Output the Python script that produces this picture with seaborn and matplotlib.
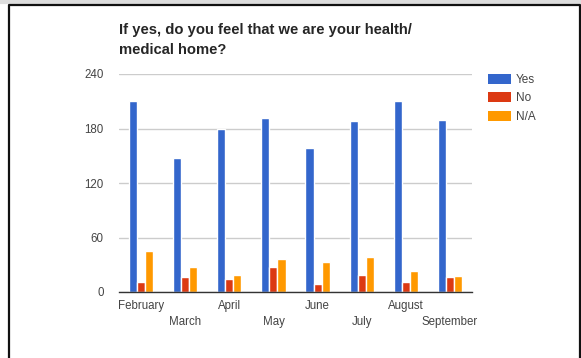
import matplotlib
matplotlib.use("Agg")
import matplotlib.pyplot as plt
import matplotlib.transforms as mtransforms
from matplotlib.lines import Line2D
from matplotlib.patches import Patch
import pandas as pd
import seaborn as sns

# Data
months = ["February", "March", "April", "May", "June", "July", "August", "September"]
yes_vals = [210, 147, 180, 192, 158, 188, 210, 189]
no_vals = [11, 16, 14, 28, 9, 19, 11, 17]
na_vals = [45, 27, 19, 36, 33, 38, 23, 18]
answers = ["Yes", "No", "N/A"]
colors = ["#3366CC", "#DC3912", "#FF9900"]
y_ticks = [0, 60, 120, 180, 240]

df = pd.DataFrame({"Month": months, "Yes": yes_vals, "No": no_vals, "N/A": na_vals})
long_df = df.melt(id_vars="Month", var_name="Answer", value_name="Count")

sns.set_style("white")
plt.rcParams["font.family"] = ["Liberation Sans", "DejaVu Sans"]

W, H = 581, 358
fig = plt.figure(figsize=(W / 100, H / 100), dpi=100)
ax = fig.add_axes([119 / W, 1 - 292 / H, (472 - 119) / W, (292 - 74) / H])

sns.barplot(data=long_df, x="Month", y="Count", hue="Answer", hue_order=answers,
            palette=colors, order=months, width=0.55, gap=0, saturation=1,
            errorbar=None, legend=False, ax=ax)

ax.set_ylim(0, 240)
ax.set_yticks(y_ticks)
ax.set_xlim(-0.5, len(months) - 0.5)
ax.grid(axis="y", color="#cccccc", linewidth=1)
ax.set_axisbelow(True)
for s in ["top", "right", "left"]:
    ax.spines[s].set_visible(False)
ax.spines["bottom"].set_color("#333333")
ax.spines["bottom"].set_linewidth(1)
ax.set_xlabel("")
ax.set_ylabel("")
ax.tick_params(axis="both", length=0, labelsize=8.3, labelcolor="#444444")
ax.tick_params(axis="y", pad=11)
ax.tick_params(axis="x", pad=6)

# stagger the month labels on two rows
shift = mtransforms.ScaledTranslation(0, -16 / 100, fig.dpi_scale_trans)
for i, lbl in enumerate(ax.get_xticklabels()):
    if i % 2 == 1:
        lbl.set_transform(lbl.get_transform() + shift)

handles = [Patch(facecolor=c, edgecolor="none") for c in colors]
ax.legend(handles, answers, loc="upper left", bbox_to_anchor=(477 / W, 1 - 63 / H),
          bbox_transform=fig.transFigure, frameon=False, fontsize=8.5,
          handlelength=2.0, handleheight=0.95, handletextpad=0.4, labelspacing=0.55,
          labelcolor="#444444")

fig.text(119 / W, 1 - 40 / H, "If yes, do you feel that we are your health/\nmedical home?",
         fontsize=10.6, fontweight="bold", va="center", ha="left", linespacing=1.55)

# frame around the chart
fig.add_artist(Line2D([0, 1], [1 - 1.5 / H, 1 - 1.5 / H], transform=fig.transFigure,
                      color="#dddddd", linewidth=3))
fig.add_artist(Line2D([8.5 / W, 8.5 / W, 579.5 / W, 579.5 / W],
                      [0, 1 - 5 / H, 1 - 5 / H, 0], transform=fig.transFigure,
                      color="#111111", linewidth=1.6))

fig.savefig("out.png", dpi=100)
